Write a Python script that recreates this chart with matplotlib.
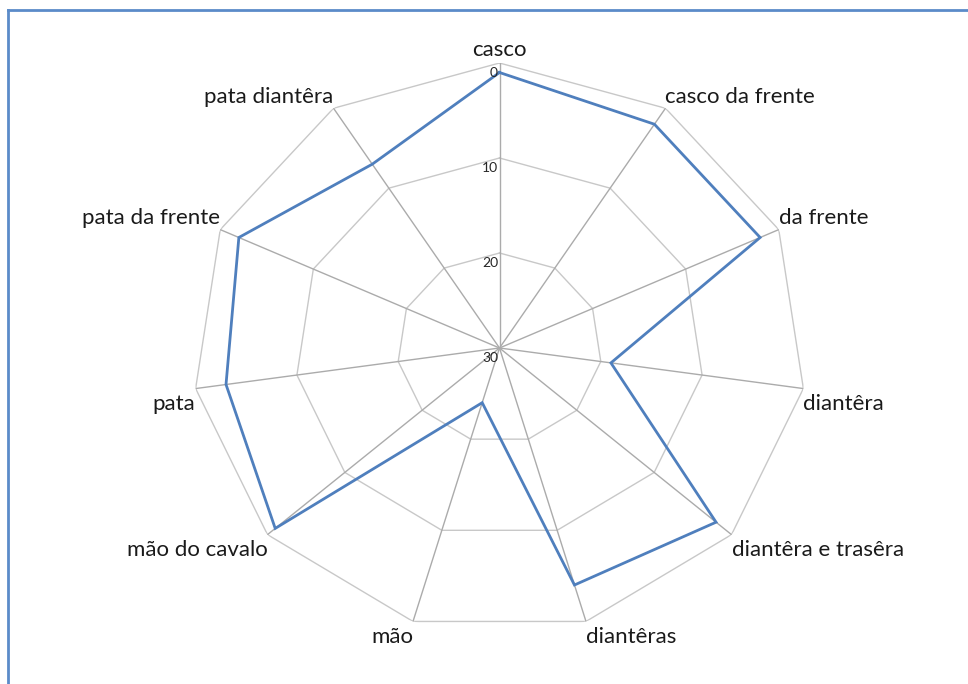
import numpy as np
import matplotlib
matplotlib.use("Agg")
import matplotlib.pyplot as plt
from matplotlib.lines import Line2D

categories = ["casco", "casco da frente", "da frente", "diantêra",
              "diantêra e trasêra", "diantêras", "mão", "mão do cavalo",
              "pata", "pata da frente", "pata diantêra"]
values = [1, 2, 2, 19, 2, 4, 24, 1, 3, 2, 7]
ring_levels = [0, 10, 20, 30]
tick_labels = ["0", "10", "20", "30"]

W, H = 968, 684
fig = plt.figure(figsize=(W / 100, H / 100), dpi=100)
fig.patch.set_facecolor("white")

cx, cy, rx, ry = 499.5, 348.0, 307.0, 285.0
ax = fig.add_axes([(cx - rx) / W, (H - cy - ry) / H, 2 * rx / W, 2 * ry / H],
                  projection="polar")
ax.set_aspect("auto")
ax.set_theta_zero_location("N")
ax.set_theta_direction(-1)
ax.set_ylim(30, 0)
ax.grid(False)
ax.spines["polar"].set_visible(False)
ax.set_xticks([])
ax.set_yticks([])
ax.patch.set_alpha(0)

n = len(categories)
angles = np.arange(n) * 2 * np.pi / n
closed = np.append(angles, angles[0])

# polygon rings
for lv in ring_levels[:-1]:
    ax.plot(closed, [lv] * (n + 1), color="#C8C8C8", lw=1.0, zorder=1)
# spokes
for a in angles:
    ax.plot([a, a], [ring_levels[-1], ring_levels[0]], color="#ABABAB", lw=1.0, zorder=1)

# data line
vals = np.append(values, values[0])
ax.plot(closed, vals, color="#4F7FBD", lw=2.0, zorder=3, solid_joinstyle="miter")

# radial tick labels
for lv, lab in zip(ring_levels, tick_labels):
    ax.annotate(lab, xy=(0, lv), xytext=(-1, -7), textcoords="offset points",
                ha="right", va="center", fontsize=10, color="#262626",
                family="Lato", zorder=4)

# category labels
for a, lab in zip(angles, categories):
    s, c = np.sin(a), np.cos(a)
    if abs(s) < 1e-6:
        ha, va, off = "center", "bottom", (0, 2)
    else:
        ha = "left" if s > 0 else "right"
        va = "bottom" if c > 0 else "top"
        off = (0, 1) if c > 0 else (0, -4)
    ax.annotate(lab, xy=(a, 0), xytext=off, textcoords="offset points",
                ha=ha, va=va, fontsize=16, color="#1a1a1a",
                family="Lato", annotation_clip=False)

# outer border (partially visible)
bc = "#5B8BC9"
fig.add_artist(Line2D([7.5 / W, 7.5 / W], [0, 1 - 10 / H], color=bc, lw=2.0,
                      transform=fig.transFigure))
fig.add_artist(Line2D([7.5 / W, 1.0], [1 - 10 / H, 1 - 10 / H], color=bc, lw=2.0,
                      transform=fig.transFigure))

fig.savefig("out.png", dpi=100, facecolor="white")
